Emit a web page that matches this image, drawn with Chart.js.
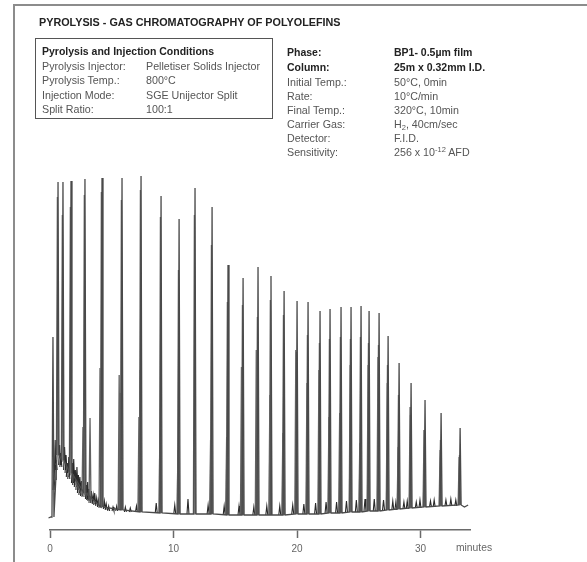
<!DOCTYPE html>
<html><head><meta charset="utf-8">
<script src="https://cdn.jsdelivr.net/npm/chart.js@4.4.1/dist/chart.umd.min.js"></script>
<style>
html,body{margin:0;padding:0;background:#fff;}
#wrap{position:relative;width:587px;height:562px;overflow:hidden;font-family:"Liberation Sans",Arial,Helvetica,sans-serif;}
#c{position:absolute;left:0;top:0;}
.frameT{position:absolute;left:13px;top:4px;width:574px;height:2px;background:#8c8c8c;}
.frameL{position:absolute;left:13px;top:4px;width:2px;height:558px;background:#8c8c8c;}
.title{position:absolute;left:39px;top:17px;font-weight:bold;font-size:10.8px;color:#222;white-space:nowrap;line-height:1;}
.box{position:absolute;left:35px;top:38px;width:236px;height:79px;border:1.6px solid #555;}
.t{position:absolute;font-size:10.7px;color:#555;white-space:nowrap;line-height:1;}
.b{font-weight:bold;color:#222;font-size:10.5px;}
.sub{font-size:7.5px;position:relative;top:2px;line-height:0;}
.sup{font-size:7.5px;position:relative;top:-4px;line-height:0;}
.ax{position:absolute;font-size:10.3px;color:#666;white-space:nowrap;line-height:1;}
</style></head>
<body>
<div id="wrap">
<canvas id="c" width="587" height="562"></canvas>
<div class="frameT"></div><div class="frameL"></div>
<div class="title">PYROLYSIS - GAS CHROMATOGRAPHY OF POLYOLEFINS</div>
<div class="box"></div>
<div class="t b" style="left:42px;top:46px;">Pyrolysis and Injection Conditions</div>
<div class="t" style="left:42px;top:61px;">Pyrolysis Injector:</div><div class="t" style="left:146px;top:61px;">Pelletiser Solids Injector</div>
<div class="t" style="left:42px;top:75px;">Pyrolysis Temp.:</div><div class="t" style="left:146px;top:75px;">800°C</div>
<div class="t" style="left:42px;top:90px;">Injection Mode:</div><div class="t" style="left:146px;top:90px;">SGE Unijector Split</div>
<div class="t" style="left:42px;top:104px;">Split Ratio:</div><div class="t" style="left:146px;top:104px;">100:1</div>

<div class="t b" style="left:287px;top:47px;">Phase:</div><div class="t b" style="left:394px;top:47px;">BP1- 0.5µm film</div>
<div class="t b" style="left:287px;top:62px;">Column:</div><div class="t b" style="left:394px;top:62px;">25m x 0.32mm I.D.</div>
<div class="t" style="left:287px;top:77px;">Initial Temp.:</div><div class="t" style="left:394px;top:77px;">50°C, 0min</div>
<div class="t" style="left:287px;top:91px;">Rate:</div><div class="t" style="left:394px;top:91px;">10°C/min</div>
<div class="t" style="left:287px;top:105px;">Final Temp.:</div><div class="t" style="left:394px;top:105px;">320°C, 10min</div>
<div class="t" style="left:287px;top:119px;">Carrier Gas:</div><div class="t" style="left:394px;top:119px;">H<span class="sub">2</span>, 40cm/sec</div>
<div class="t" style="left:287px;top:133px;">Detector:</div><div class="t" style="left:394px;top:133px;">F.I.D.</div>
<div class="t" style="left:287px;top:147px;">Sensitivity:</div><div class="t" style="left:394px;top:147px;">256 x 10<span class="sup">-12</span> AFD</div>
<div class="ax" style="left:456px;top:543px;">minutes</div>
</div>
<script>
// retention time axis (minutes)
const xTickValues = [0, 10, 20, 30];
const xMin = 0, xMax = 34;

// leading / trailing trace (time, level)
const leadTimes  = [-0.5, -0.38, -0.25, -0.12, 0.08];
const leadLevels = [-7, -4, -7, -3, -2];
const tailTimes  = [33.55, 33.85];
const tailLevels = [8, 10];

// main (n-alkane) peaks
const mainTimes   = [0.24,0.65,1.05,1.70,2.83,4.21,5.83,7.37,8.99,10.45,11.74,13.12,14.41,15.63,16.84,17.89,18.95,20.00,20.89,21.86,22.67,23.56,24.37,25.18,25.83,26.64,27.37,28.26,29.23,30.36,31.66,33.20];
const mainHeights = [178,333,333,334,336,337,337,339,319,296,327,308,250,237,248,239,224,214,213,204,206,208,208,209,204,202,179,152,132,115,102,87];
const mainBases   = [-2,60,55,42,22,8,5,3,2,1,1,1,0,0,0,0,0,1,1,1,2,2,3,3,4,4,5,6,7,8,9,10];

// companion (1-alkene) peaks, nearly co-eluting
const compTimes   = [0.60,1.00,1.65,2.78,4.16,5.78,7.32,8.94,10.40,11.69,13.07,14.36,15.58,16.79,17.84,18.90,19.95,20.84,21.81,22.62,23.51,24.32,25.13,25.78,26.59,27.32,28.21,29.18,30.31,31.61,33.15];
const compHeights = [318,300,308,320,323,315,325,298,245,300,270,213,210,198,215,200,163,180,172,176,178,176,178,172,170,150,120,100,85,75,60];
const compBases   = [60,55,42,22,8,5,3,2,1,1,1,0,0,0,0,0,1,1,1,2,2,3,3,4,4,5,6,7,8,9,10];

// third (diene) peaks of each triplet
const thirdTimes   = [2.67,3.24,4.05,5.60,5.70,7.20,7.29,8.90,10.36,13.00,14.30,15.50,16.70,17.80,18.85,19.90,20.80,21.77,22.58,23.45,24.30,25.08,25.75,26.55,27.30,28.18,29.15,30.28,31.58,33.12];
const thirdHeights = [88,97,147,140,122,98,145,85,65,75,78,148,165,120,82,165,132,145,98,102,150,72,150,158,132,68,108,85,65,58];
const thirdBases   = [18,12,7,5,5,3,3,2,1,1,0,0,0,0,0,1,1,1,2,2,3,3,4,4,5,6,7,8,9,10];

// early volatiles and small baseline bumps
const minorTimes   = [0.32,0.42,0.50,0.78,0.88,1.18,1.30,1.40,1.52,1.82,1.92,2.05,2.18,2.30,2.42,2.55,2.95,3.05,3.15,3.35,3.50,3.62,3.78,3.92,4.40,4.55,4.75,5.10,5.40,6.10,6.50,7.00,8.60,10.10,11.17,12.80,14.10,15.30,16.50,17.55,18.60,19.65,20.55,21.50,22.35,23.20,24.00,24.80,25.50,26.25,27.00,27.75,28.00,28.65,28.92,29.65,29.95,30.80,31.10,32.05,32.45,32.85];
const minorHeights = [40,75,55,70,62,68,60,52,58,52,56,45,48,40,38,34,30,33,26,24,20,22,17,15,14,11,9,8,9,8,7,9,12,10,16,10,9,9,8,9,9,10,11,12,13,13,14,15,16,16,15,14,13,13,14,13,15,14,15,15,16,15];
const minorBases   = [25,35,45,50,48,45,42,38,36,32,30,28,25,22,20,19,16,15,14,12,11,10,9,8,6,5,4,4,4,3,3,3,2,1,1,1,0,0,0,0,0,1,1,1,2,2,3,3,4,4,5,5,5,6,6,7,7,8,8,9,9,9];

const hw = 0.08; // half width of a peak foot, minutes

function peakPoints(times, heights, bases, gaps) {
  const pts = [];
  times.forEach((t, i) => {
    pts.push({x: t - hw, y: bases[i]});
    pts.push({x: t, y: heights[i]});
    pts.push({x: t + hw, y: bases[i]});
    if (gaps) pts.push({x: t + hw, y: null});
  });
  return pts;
}
const mainTrace = [];
leadTimes.forEach((t, i) => mainTrace.push({x: t, y: leadLevels[i]}));
peakPoints(mainTimes, mainHeights, mainBases, false).forEach(p => mainTrace.push(p));
tailTimes.forEach((t, i) => mainTrace.push({x: t, y: tailLevels[i]}));

const lineStyle = {borderColor: '#626262', borderWidth: 1.3, pointRadius: 0, tension: 0, clip: false, spanGaps: false, fill: false};

new Chart(document.getElementById('c'), {
  type: 'line',
  data: {
    datasets: [
      Object.assign({label: 'trace', data: mainTrace}, lineStyle, {borderColor: '#4a4a4a'}),
      Object.assign({label: 'alkenes', data: peakPoints(compTimes, compHeights, compBases, true)}, lineStyle),
      Object.assign({label: 'dienes', data: peakPoints(thirdTimes, thirdHeights, thirdBases, true)}, lineStyle),
      Object.assign({label: 'minor', data: peakPoints(minorTimes, minorHeights, minorBases, true)}, lineStyle, {borderColor: '#2a2a2a', borderWidth: 1.1})
    ]
  },
  options: {
    responsive: false,
    devicePixelRatio: 1,
    animation: false,
    events: [],
    layout: {padding: {left: 50, right: 117, top: 170, bottom: 0}},
    plugins: {legend: {display: false}, tooltip: {enabled: false}},
    scales: {
      x: {
        type: 'linear', min: xMin, max: xMax,
        afterFit: s => { s.height = 32; },
        afterBuildTicks: s => { s.ticks = xTickValues.map(v => ({value: v})); },
        border: {display: true, color: '#6a6a6a', width: 1.5},
        grid: {drawOnChartArea: false, drawTicks: true, tickLength: 8, tickWidth: 1.5, tickColor: '#6a6a6a'},
        ticks: {color: '#666', font: {family: '"Liberation Sans", Arial, sans-serif', size: 10}, padding: 5, maxRotation: 0}
      },
      y: {display: false, min: -15, max: 345}
    }
  }
});
</script>
</body></html>
